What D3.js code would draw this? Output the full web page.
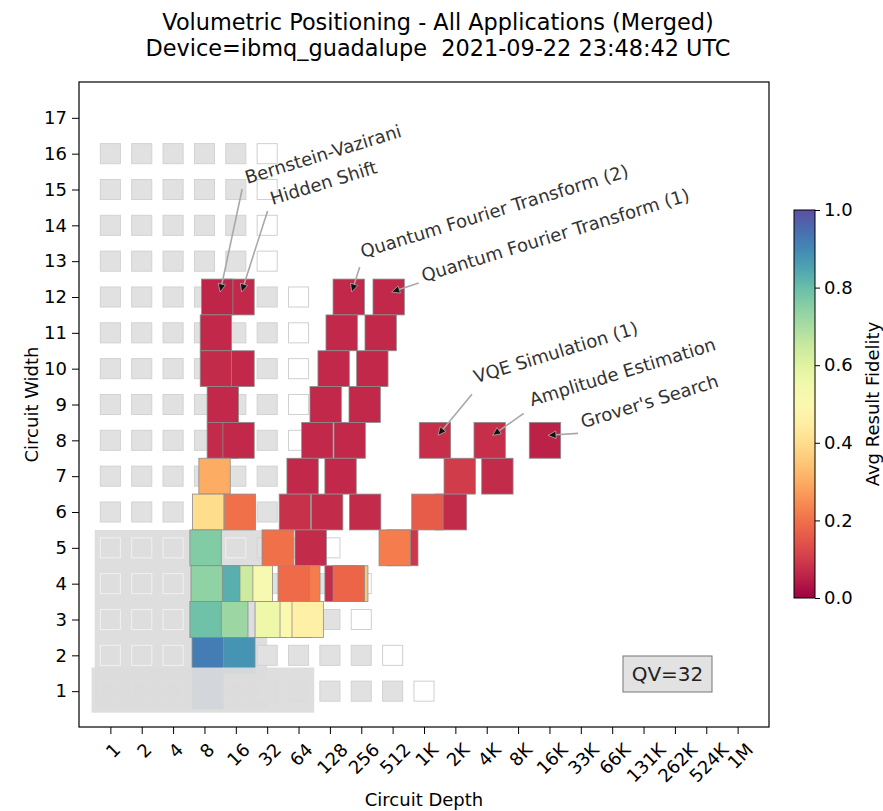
<!DOCTYPE html>
<html>
<head>
<meta charset="utf-8">
<script src="https://cdn.jsdelivr.net/npm/d3@7"></script>
<style>
  body { margin: 0; background: #fff; }
  text { font-family: "DejaVu Sans", sans-serif; }
</style>
</head>
<body>
<svg id="chart" width="883" height="811"></svg>
<script>
// ---- axis tick labels ----
const depthTickLabels = ["1","2","4","8","16","32","64","128","256","512","1K","2K","4K","8K","16K","33K","66K","131K","262K","524K","1M"];
const widthTickValues = [1,2,3,4,5,6,7,8,9,10,11,12,13,14,15,16,17];
const fidelityTickValues = [0, 0.2, 0.4, 0.6, 0.8, 1.0];

// ---- background grid: widths and the largest depth index drawn for each ----
const gridWidths      = [1, 2, 3, 4, 5, 6, 7, 8, 9, 10, 11, 12, 13, 14, 15, 16];
const gridMaxDepthIdx = [10, 9, 8, 8, 7, 6, 6, 6, 6, 6, 6, 6, 5, 5, 5, 5];

// ---- quantum volume ----
const qvValue = 32;
const qvWidth = 5;
const qvDepth = 32;

// ---- merged application results (drawn in this order) ----
const resultWidth = [
  12, 12, 12, 12,
  11, 11, 11,
  10, 10, 10, 10,
  9, 9, 9,
  8, 8, 8, 8, 8, 8, 8,
  7, 7, 7, 7, 7,
  6, 6, 6, 6, 6, 6, 6,
  5, 5, 5, 5, 5,
  4, 4, 4, 4, 4, 4, 4, 4, 4,
  3, 3, 3, 3, 3,
  2, 2,
  1
];
const resultDepth = [
  17, 10.6, 194, 469,
  10.3, 166, 393,
  17, 10.3, 139, 327,
  12, 116.5, 276,
  12, 17, 97, 198, 1305, 4371, 14840,
  10, 70, 162, 2254, 5184,
  8.7, 17.5, 59, 120.5, 279, 1859, 1104,
  8.2, 40.4, 83.7, 634, 536,
  25.4, 16.5, 12.4, 8.4, 72.7, 57.5, 209.8, 162, 194,
  14.8, 8.2, 34.6, 60.1, 78.3,
  17.3, 8.6,
  8.6
];
const resultFidelity = [
  0.065, 0.06, 0.065, 0.065,
  0.065, 0.065, 0.065,
  0.065, 0.07, 0.065, 0.065,
  0.065, 0.065, 0.065,
  0.07, 0.065, 0.065, 0.065, 0.075, 0.075, 0.055,
  0.30, 0.065, 0.065, 0.10, 0.07,
  0.40, 0.20, 0.08, 0.07, 0.07, 0.07, 0.16,
  0.76, 0.20, 0.07, 0.09, 0.22,
  0.52, 0.64, 0.83, 0.74, 0.22, 0.19, 0.35, 0.07, 0.18,
  0.72, 0.79, 0.56, 0.50, 0.46,
  0.88, 0.92,
  0.93
];

// ---- application annotations: name and the result it points at ----
const appNames = ["Bernstein-Vazirani", "Hidden Shift", "Quantum Fourier Transform (2)",
                  "Quantum Fourier Transform (1)", "VQE Simulation (1)", "Amplitude Estimation",
                  "Grover's Search"];
const appWidth = [12, 12, 12, 12, 8, 8, 8];
const appDepth = [10.6, 17, 194, 469, 1305, 4371, 14840];

// ---- layout ----
const svg = d3.select("#chart");
const M = { left: 79, right: 769, top: 82, bottom: 727 };
const FONT = 18;
const x = d3.scaleLinear().domain([-1, 21]).range([M.left, M.right]);
const y = d3.scaleLinear().domain([0, 18]).range([M.bottom, M.top]);
const color = d3.scaleSequential(d3.interpolateSpectral).domain([0, 1]);
const lg = Math.log2;

const plot = svg.append("g");

// quantum-volume region
plot.append("rect")
  .attr("x", x(-0.5))
  .attr("y", y(qvWidth + 0.5))
  .attr("width", x(lg(qvDepth)) - x(-0.5))
  .attr("height", y(0.5) - y(qvWidth + 0.5))
  .attr("fill", "#dedede");

// background grid cells
const cells = [];
gridWidths.forEach((w, i) => {
  for (let d = 0; d <= gridMaxDepthIdx[i]; d++) {
    cells.push({ w, d, hollow: d === gridMaxDepthIdx[i], inner: w <= qvWidth && d < lg(qvDepth) });
  }
});
const cw = 0.32, ch = 0.28;
plot.selectAll("rect.cell").data(cells).join("rect")
  .attr("class", "cell")
  .attr("x", c => x(c.d - cw))
  .attr("y", c => y(c.w + ch))
  .attr("width", x(cw) - x(-cw))
  .attr("height", y(-ch) - y(ch))
  .attr("fill", c => c.hollow ? "#ffffff" : (c.inner ? "none" : "#e1e1e1"))
  .attr("stroke", c => c.hollow ? "#d0d0d0" : (c.inner ? "#f1f1f1" : "#d2d2d2"))
  .attr("stroke-width", 1);

// result rectangles
const results = resultWidth.map((w, i) => ({ w, d: resultDepth[i], f: resultFidelity[i] }));
plot.selectAll("rect.res").data(results).join("rect")
  .attr("class", "res")
  .attr("x", r => x(lg(r.d) - 0.5))
  .attr("y", r => y(r.w + 0.5))
  .attr("width", x(0.5) - x(-0.5))
  .attr("height", y(0) - y(1))
  .attr("fill", r => color(r.f))
  .attr("stroke", "#8c8c8c")
  .attr("stroke-width", 0.8);

// greyed band over width 1
plot.append("rect")
  .attr("x", x(-0.6))
  .attr("y", y(1.66))
  .attr("width", x(6.5) - x(-0.6))
  .attr("height", y(0.4) - y(1.66))
  .attr("fill", "#dcdcdc")
  .attr("opacity", 0.94);

// annotations
const labelOffset = [[30, -113], [34, -92], [14, -39], [35, -15], [41, -57], [42, -34], [38, -12]];
const arrowOffset = [[25, -108], [29, -86], [11, -30], [30, -14], [37, -46], [34, -27], [33, -7]];
const ang = -17;
appNames.forEach((name, i) => {
  const cx = x(lg(appDepth[i])), cy = y(appWidth[i]);
  const tx = cx + 3, ty = cy - 5;
  const sx = cx + arrowOffset[i][0], sy = cy + arrowOffset[i][1];
  const a = Math.atan2(ty - sy, tx - sx);
  const hl = 8, hw = 3.8;
  const bx = tx - hl * Math.cos(a), by = ty - hl * Math.sin(a);
  plot.append("line")
    .attr("x1", sx).attr("y1", sy).attr("x2", bx).attr("y2", by)
    .attr("stroke", "#a8a8a8").attr("stroke-width", 1.6);
  const p1 = [bx + hw * Math.sin(a), by - hw * Math.cos(a)];
  const p2 = [bx - hw * Math.sin(a), by + hw * Math.cos(a)];
  plot.append("path")
    .attr("d", `M${tx},${ty}L${p1[0]},${p1[1]}L${p2[0]},${p2[1]}Z`)
    .attr("fill", "#111").attr("stroke", "#b0b0b0").attr("stroke-width", 0.8);
  const lx = cx + labelOffset[i][0], ly = cy + labelOffset[i][1];
  plot.append("text")
    .attr("transform", `translate(${lx},${ly}) rotate(${ang})`)
    .attr("font-size", FONT)
    .attr("fill", "#333")
    .text(name);
});

// QV label
const qvBox = plot.append("g").attr("transform", `translate(${M.right - 146},${M.bottom - 71})`);
qvBox.append("rect").attr("width", 89).attr("height", 36)
  .attr("fill", "#e2e2e2").attr("stroke", "#777").attr("stroke-width", 1);
qvBox.append("text").attr("x", 44.5).attr("y", 18).attr("dy", "0.36em")
  .attr("text-anchor", "middle").attr("font-size", 20).attr("fill", "#222")
  .text("QV=" + qvValue);

// frame
svg.append("rect")
  .attr("x", M.left).attr("y", M.top)
  .attr("width", M.right - M.left).attr("height", M.bottom - M.top)
  .attr("fill", "none").attr("stroke", "#000").attr("stroke-width", 1.2);

// y axis
const yAxis = svg.append("g").attr("transform", `translate(${M.left},0)`)
  .call(d3.axisLeft(y).tickValues(widthTickValues).tickSize(7).tickPadding(5));
yAxis.select(".domain").remove();
yAxis.selectAll("text").attr("font-size", FONT).attr("font-family", "DejaVu Sans").attr("fill", "#000");
yAxis.selectAll("line").attr("stroke", "#000");

// x axis with rotated labels
const xAxis = svg.append("g").attr("transform", `translate(0,${M.bottom})`)
  .call(d3.axisBottom(x).tickValues(d3.range(0, 21)).tickFormat(i => depthTickLabels[i]).tickSize(7));
xAxis.select(".domain").remove();
xAxis.selectAll("line").attr("stroke", "#000");
xAxis.selectAll("text")
  .attr("font-size", FONT).attr("font-family", "DejaVu Sans").attr("fill", "#000")
  .each(function () {
    const len = this.getComputedTextLength();
    const h = FONT * 1.16;
    const half = (len + h) * Math.SQRT1_2 / 2;
    d3.select(this)
      .attr("y", 0).attr("dy", 0)
      .attr("text-anchor", "middle")
      .attr("dominant-baseline", "central")
      .attr("transform", `translate(2,${12 + half}) rotate(-45)`);
  });

// axis titles
svg.append("text").attr("x", (M.left + M.right) / 2).attr("y", 806)
  .attr("text-anchor", "middle").attr("font-size", FONT).text("Circuit Depth");
svg.append("text").attr("transform", `translate(31,${(M.top + M.bottom) / 2}) rotate(-90)`)
  .attr("text-anchor", "middle").attr("dominant-baseline", "central")
  .attr("font-size", FONT).text("Circuit Width");

// chart title
svg.append("text").attr("x", 438).attr("y", 30).attr("text-anchor", "middle")
  .attr("font-size", 22.4).text("Volumetric Positioning - All Applications (Merged)");
svg.append("text").attr("x", 438).attr("y", 56).attr("text-anchor", "middle")
  .attr("font-size", 22.4).style("white-space", "pre")
  .text("Device=ibmq_guadalupe  2021-09-22 23:48:42 UTC");

// colour bar
const cb = { x: 794, w: 21, top: 210, bottom: 598 };
const cbScale = d3.scaleLinear().domain([0, 1]).range([cb.bottom, cb.top]);
const grad = svg.append("defs").append("linearGradient")
  .attr("id", "spectral").attr("x1", 0).attr("y1", 1).attr("x2", 0).attr("y2", 0);
d3.range(0, 1.0001, 0.05).forEach(t => {
  grad.append("stop").attr("offset", t).attr("stop-color", color(t));
});
svg.append("rect").attr("x", cb.x).attr("y", cb.top).attr("width", cb.w).attr("height", cb.bottom - cb.top)
  .attr("fill", "url(#spectral)").attr("stroke", "#000").attr("stroke-width", 1);
const cbAxis = svg.append("g").attr("transform", `translate(${cb.x + cb.w},0)`)
  .call(d3.axisRight(cbScale).tickValues(fidelityTickValues).tickFormat(d3.format(".1f")).tickSize(5).tickPadding(4));
cbAxis.select(".domain").remove();
cbAxis.selectAll("line").attr("stroke", "#000");
cbAxis.selectAll("text").attr("font-size", FONT).attr("font-family", "DejaVu Sans").attr("fill", "#000");
svg.append("text").attr("transform", `translate(872,${(cb.top + cb.bottom) / 2}) rotate(-90)`)
  .attr("text-anchor", "middle").attr("dominant-baseline", "central")
  .attr("font-size", FONT).text("Avg Result Fidelity");
</script>
</body>
</html>
